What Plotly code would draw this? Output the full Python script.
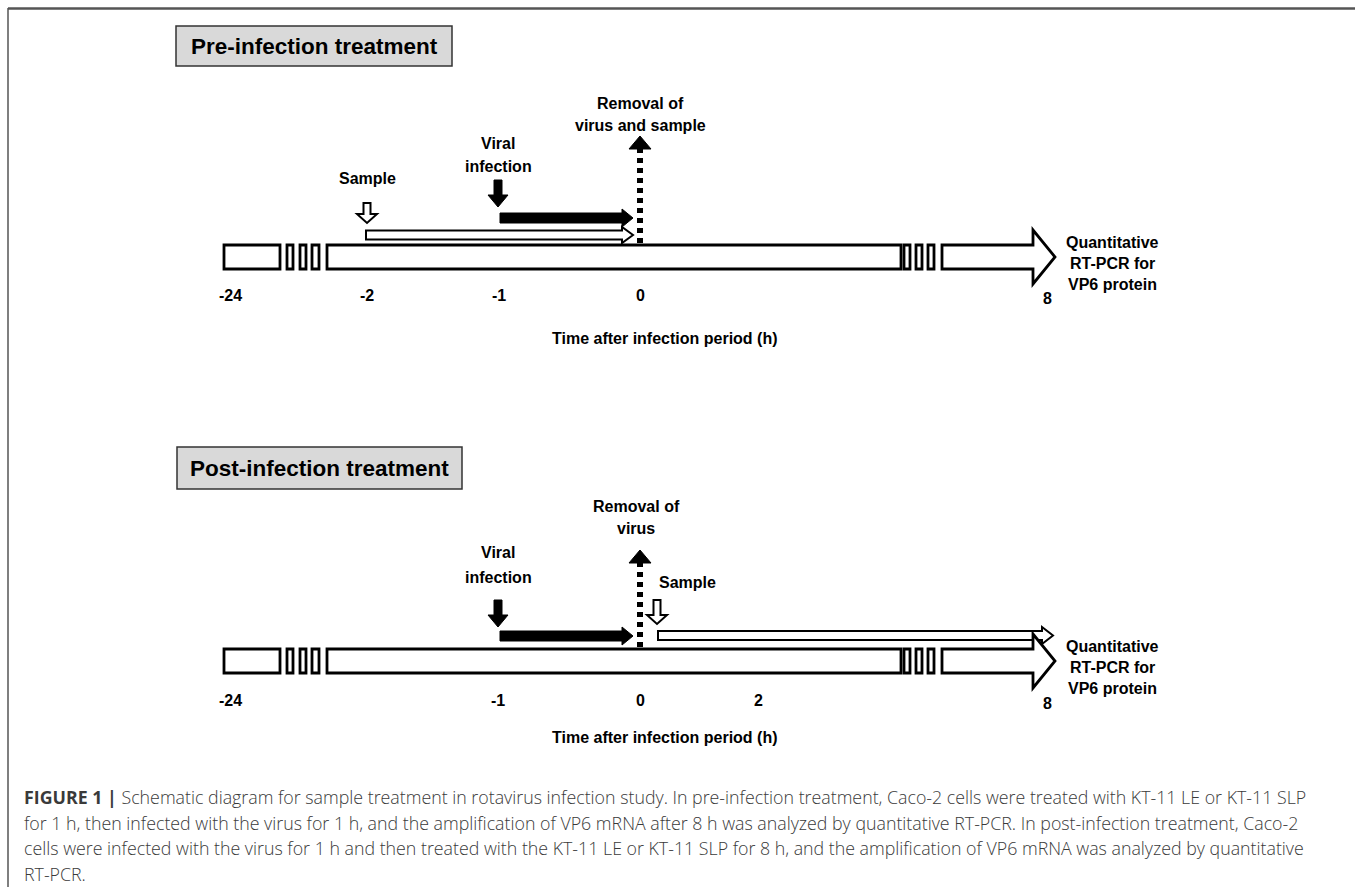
import plotly.graph_objects as go

# ---------------- data (text content) ----------------
PANEL_TITLES = ["Pre-infection treatment", "Post-infection treatment"]
TOP_TICKS = ["-24", "-2", "-1", "0", "8"]
BOTTOM_TICKS = ["-24", "-1", "0", "2", "8"]
AXIS_TITLE = "Time after infection period (h)"
END_LABEL = ["Quantitative", "RT-PCR for", "VP6 protein"]
TOP_REMOVAL = ["Removal of", "virus and sample"]
BOTTOM_REMOVAL = ["Removal of", "virus"]
VIRAL = ["Viral", "infection"]
SAMPLE = "Sample"
CAPTION_LINES = [
    "<b>FIGURE 1 |</b> Schematic diagram for sample treatment in rotavirus infection study. In pre-infection treatment, Caco-2 cells were treated with KT-11 LE or KT-11 SLP",
    "for 1 h, then infected with the virus for 1 h, and the amplification of VP6 mRNA after 8 h was analyzed by quantitative RT-PCR. In post-infection treatment, Caco-2",
    "cells were infected with the virus for 1 h and then treated with the KT-11 LE or KT-11 SLP for 8 h, and the amplification of VP6 mRNA was analyzed by quantitative",
    "RT-PCR.",
]

# ---------------- layout constants (pixel space) ----------------
W, H = 1355, 887
TOP_TICK_X = [230, 367, 499, 640, 1047]
BOTTOM_TICK_X = [230, 498, 640, 758, 1047]
FONT = "Liberation Sans, Arial, sans-serif"
CAP_FONT = "Open Sans, Liberation Sans, Arial, sans-serif"
LW = 2.8

shapes = []
annotations = []


def text(x, y, s, size=16, bold=True, color="black", xanchor="center", family=FONT, weight=None):
    annotations.append(dict(
        x=x, y=y, xref="x", yref="y", text=s, showarrow=False,
        xanchor=xanchor, yanchor="middle",
        font=dict(family=family, size=size, color=color,
                  weight=weight if weight is not None else ("bold" if bold else "normal")),
    ))


def rect(x0, x1, y0, y1, fill="white", line="black", width=LW):
    shapes.append(dict(type="rect", xref="x", yref="y", x0=x0, x1=x1, y0=y0, y1=y1,
                       fillcolor=fill, line=dict(color=line, width=width), layer="above"))


def path(d, fill, width=LW):
    shapes.append(dict(type="path", xref="x", yref="y", path=d, fillcolor=fill,
                       line=dict(color="black", width=width), layer="above"))


def harrow(x0, x1, yc, sh, hh, hl):
    xs = x1 - hl
    return (f"M{x0},{yc-sh} L{xs},{yc-sh} L{xs},{yc-hh} L{x1},{yc} "
            f"L{xs},{yc+hh} L{xs},{yc+sh} L{x0},{yc+sh} Z")


def varrow(xc, y0, y1, sw, hw, hl):
    sgn = 1 if y1 > y0 else -1
    ys = y1 - sgn * hl
    return (f"M{xc-sw},{y0} L{xc-sw},{ys} L{xc-hw},{ys} L{xc},{y1} "
            f"L{xc+hw},{ys} L{xc+sw},{ys} L{xc+sw},{y0} Z")


def timeline(bar_top, bar_bot):
    rect(224, 280, bar_top, bar_bot)
    for a, b in [(287, 293), (300, 306), (312, 319)]:
        rect(a, b, bar_top, bar_bot)
    rect(327, 901, bar_top, bar_bot)
    for a, b in [(904, 910), (916, 922), (928, 934)]:
        rect(a, b, bar_top, bar_bot)
    yc = (bar_top + bar_bot) / 2
    path(harrow(942, 1055, yc, (bar_bot - bar_top) / 2, 27, 22), "white")


def removal(tip, base, bar_top):
    shapes.append(dict(type="line", xref="x", yref="y", x0=640, x1=640, y0=bar_top - 2, y1=base,
                       line=dict(color="black", width=6, dash="5px,5px"), layer="above"))
    path(f"M629,{base} L640,{tip} L651,{base} Z", "black", width=1)


# ---------------- frame ----------------
shapes.append(dict(type="line", xref="x", yref="y", x0=8, x1=W, y0=8.5, y1=8.5,
                   line=dict(color="#555555", width=2.5)))
shapes.append(dict(type="line", xref="x", yref="y", x0=8, x1=8, y0=8, y1=H,
                   line=dict(color="#555555", width=1.5)))

# ---------------- top panel ----------------
rect(176, 452, 26, 66, fill="#d9d9d9", line="#333333", width=1.5)
text(314, 46, PANEL_TITLES[0], size=22.5)

text(640, 103, TOP_REMOVAL[0])
text(640, 125, TOP_REMOVAL[1])
removal(136, 149, 245)

text(498, 143, VIRAL[0])
text(498, 166, VIRAL[1])
text(367, 178, SAMPLE)

path(varrow(498, 180, 207, 4, 10, 12), "black", width=1)
path(varrow(367, 203, 223, 3.5, 10, 9), "white", width=2)
path(harrow(500, 633, 218, 5, 9, 11), "black", width=1)
path(harrow(366, 633, 235, 4.5, 8, 11), "white", width=2)

timeline(245, 269)

for lab, x in zip(TOP_TICKS, TOP_TICK_X):
    text(x, 298 if lab == "8" else 295, lab)
for i, s in enumerate(END_LABEL):
    text(1112, 242 + 21 * i, s)
text(665, 338, AXIS_TITLE)

# ---------------- bottom panel ----------------
rect(177, 462, 447, 489, fill="#d9d9d9", line="#333333", width=1.5)
text(319, 468, PANEL_TITLES[1], size=22.5)

text(636, 506, BOTTOM_REMOVAL[0])
text(636, 528, BOTTOM_REMOVAL[1])
removal(550, 563, 649)

text(498, 552, VIRAL[0])
text(498, 577, VIRAL[1])
text(687, 582, SAMPLE)

path(varrow(498, 600, 627, 4, 10, 12), "black", width=1)
path(varrow(657, 600, 624, 3.5, 10, 9), "white", width=2)
path(harrow(500, 633, 636, 5, 9, 11), "black", width=1)
path(harrow(658, 1053, 635.5, 4.5, 8.5, 11), "white", width=2)

timeline(649, 673)

for lab, x in zip(BOTTOM_TICKS, BOTTOM_TICK_X):
    text(x, 703 if lab == "8" else 700, lab)
for i, s in enumerate(END_LABEL):
    text(1112, 646 + 21 * i, s)
text(665, 737, AXIS_TITLE)

# ---------------- caption ----------------
for i, line in enumerate(CAPTION_LINES):
    text(22, 797 + 25.5 * i, line, size=17.8, bold=False, color="#3a3a3a",
         xanchor="left", family=CAP_FONT, weight=300)

fig = go.Figure()
fig.update_layout(
    width=W, height=H, margin=dict(l=0, r=0, t=0, b=0),
    paper_bgcolor="white", plot_bgcolor="white",
    xaxis=dict(range=[0, W], visible=False, fixedrange=True),
    yaxis=dict(range=[H, 0], visible=False, fixedrange=True),
    shapes=shapes, annotations=annotations, showlegend=False,
)
fig.write_html("out.html", config={"displayModeBar": False, "staticPlot": True},
               post_script="document.body.style.margin='0px';document.body.style.overflow='hidden';")
